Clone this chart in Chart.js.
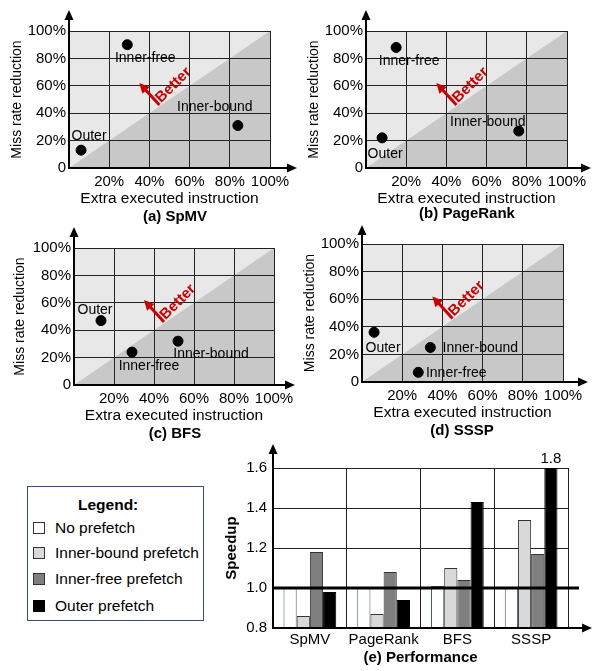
<!DOCTYPE html>
<html>
<head>
<meta charset="utf-8">
<script src="https://cdn.jsdelivr.net/npm/chart.js@4.4.1/dist/chart.umd.min.js"></script>
<style>
  html, body { margin: 0; padding: 0; background: #fff; }
  body { position: relative; width: 594px; height: 671px; overflow: hidden; font-family: 'Liberation Sans', Arial, sans-serif; }
  canvas { position: absolute; }
  #legendBox { position: absolute; left: 27px; top: 486px; width: 177px; height: 135px; box-sizing: border-box; border: 1px solid #3c4e6e; color: #000; }
  #legendBox .ttl { position: absolute; left: 50px; top: 9px; font-weight: bold; font-size: 15.5px; line-height: 18px; }
  #legendBox .row { position: absolute; left: 5px; height: 18px; line-height: 18px; font-size: 15.5px; white-space: nowrap; }
  #legendBox .sw { position: absolute; left: 0; top: 3px; width: 12px; height: 12px; box-sizing: border-box; border: 1px solid #333; }
  #legendBox .txt { position: absolute; left: 22px; top: 0; }
</style>
</head>
<body>
<canvas id="chartA" width="299" height="226" style="left:0;top:0"></canvas>
<canvas id="chartB" width="299" height="226" style="left:295px;top:0"></canvas>
<canvas id="chartC" width="299" height="222" style="left:0;top:222px"></canvas>
<canvas id="chartD" width="299" height="222" style="left:295px;top:222px"></canvas>
<canvas id="chartE" width="374" height="231" style="left:220px;top:440px"></canvas>
<div id="legendBox"></div>
<script>
// ---- data ----
const pointNames = ['Outer', 'Inner-free', 'Inner-bound'];
const spmvExtra = [6, 29, 84];
const spmvMiss = [13, 90, 31];
const pagerankExtra = [8, 15, 76];
const pagerankMiss = [22, 88, 27];
const bfsExtra = [13.5, 29, 52];
const bfsMiss = [47, 24, 32];
const ssspExtra = [6, 28, 34];
const ssspMiss = [36, 7, 25];
const percentTicks = [0, 20, 40, 60, 80, 100];

const benchmarks = ['SpMV', 'PageRank', 'BFS', 'SSSP'];
const seriesNames = ['No prefetch', 'Inner-bound prefetch', 'Inner-free prefetch', 'Outer prefetch'];
const noPrefetch = [1.0, 1.0, 1.01, 1.0];
const innerBound = [0.86, 0.87, 1.10, 1.34];
const innerFree = [1.18, 1.08, 1.04, 1.17];
const outerPrefetch = [0.98, 0.94, 1.43, 1.8];
const speedupTicks = [0.8, 1.0, 1.2, 1.4, 1.6];

// ---- styles ----
const FONT = "'Liberation Sans', Arial, sans-serif";
Chart.defaults.font.family = FONT;
Chart.defaults.color = '#000';
const seriesFill = ['#ffffff', '#d9d9d9', '#7f7f7f', '#000000'];
const seriesBorder = ['#4a5a7a', '#333333', '#333333', '#000000'];
const RED = '#cc0000';

function drawArrow(ctx, x1, y1, x2, y2, lw, headLen, headW, color) {
  const ang = Math.atan2(y2 - y1, x2 - x1);
  ctx.save();
  ctx.strokeStyle = color;
  ctx.fillStyle = color;
  ctx.lineWidth = lw;
  ctx.beginPath();
  ctx.moveTo(x1, y1);
  ctx.lineTo(x2 - Math.cos(ang) * headLen * 0.8, y2 - Math.sin(ang) * headLen * 0.8);
  ctx.stroke();
  ctx.translate(x2, y2);
  ctx.rotate(ang);
  ctx.beginPath();
  ctx.moveTo(0, 0);
  ctx.lineTo(-headLen, -headW / 2);
  ctx.lineTo(-headLen, headW / 2);
  ctx.closePath();
  ctx.fill();
  ctx.restore();
}

// "Better" annotation, in data units (same for every panel)
const betterFrom = [45, 46];
const betterTo = [35, 62];
const betterText = [52, 60.5];

function makeDecor(p) {
  return {
    id: 'panelDecor',
    beforeDraw(chart) {
      const { ctx, chartArea: a, scales: { x, y } } = chart;
      ctx.save();
      ctx.fillStyle = '#e8e8e8';
      ctx.fillRect(a.left, a.top, a.width, a.height);
      ctx.fillStyle = '#c8c8c8';
      ctx.beginPath();
      ctx.moveTo(x.getPixelForValue(0), y.getPixelForValue(0));
      ctx.lineTo(x.getPixelForValue(100), y.getPixelForValue(0));
      ctx.lineTo(x.getPixelForValue(100), y.getPixelForValue(100));
      ctx.closePath();
      ctx.fill();
      ctx.restore();
    },
    afterDatasetsDraw(chart) {
      const { ctx, chartArea: a, scales: { x, y } } = chart;
      // axes with arrow heads
      drawArrow(ctx, a.left, a.bottom + 1, a.left, p.tips[0], 2, 10, 9, '#000');
      drawArrow(ctx, a.left - 1, a.bottom, p.tips[1], a.bottom, 2, 10, 9, '#000');
      // Better arrow
      drawArrow(ctx, x.getPixelForValue(betterFrom[0]), y.getPixelForValue(betterFrom[1]),
        x.getPixelForValue(betterTo[0]), y.getPixelForValue(betterTo[1]), 3, 10, 10, RED);
      ctx.save();
      ctx.translate(x.getPixelForValue(betterText[0]), y.getPixelForValue(betterText[1]));
      ctx.rotate(-Math.PI / 4);
      ctx.fillStyle = RED;
      ctx.font = 'bold 15px ' + FONT;
      ctx.textAlign = 'center';
      ctx.textBaseline = 'middle';
      ctx.fillText('Better', 0, 0);
      ctx.restore();
      // point labels
      const meta = chart.getDatasetMeta(0);
      ctx.save();
      ctx.fillStyle = '#000';
      ctx.font = '14px ' + FONT;
      ctx.textAlign = 'center';
      ctx.textBaseline = 'middle';
      meta.data.forEach((pt, i) => {
        ctx.fillText(pointNames[i], pt.x + p.labelOffsets[i][0], pt.y + p.labelOffsets[i][1]);
      });
      // caption
      ctx.font = 'bold 15px ' + FONT;
      ctx.fillText(p.caption, p.captionAt[0], p.captionAt[1]);
      ctx.restore();
    }
  };
}

const panels = [
  { id: 'chartA', xs: spmvExtra, ys: spmvMiss, caption: '(a) SpMV',
    pad: { top: 31, right: 29, bottom: 18 }, yw: 69, xh: 40, yTitlePad: 9,
    tips: [10, 297], captionAt: [175, 217], labelOffsets: [[8, -14], [18, 13], [-23, -18]] },
  { id: 'chartB', xs: pagerankExtra, ys: pagerankMiss, caption: '(b) PageRank',
    pad: { top: 31, right: 27, bottom: 18 }, yw: 71, xh: 40, yTitlePad: 11,
    tips: [10, 296], captionAt: [172, 214], labelOffsets: [[3, 16], [13, 14], [-31, -9]] },
  { id: 'chartC', xs: bfsExtra, ys: bfsMiss, caption: '(c) BFS',
    pad: { top: 26, right: 25, bottom: 19 }, yw: 74, xh: 40, yTitlePad: 12,
    tips: [5, 295], captionAt: [175, 212], labelOffsets: [[-6, -10], [17, 14], [33, 13]] },
  { id: 'chartD', xs: ssspExtra, ys: ssspMiss, caption: '(d) SSSP',
    pad: { top: 22, right: 31, bottom: 22 }, yw: 67, xh: 40, yTitlePad: 7,
    tips: [3, 293], captionAt: [167, 209], labelOffsets: [[9, 16], [38, 1], [50, 1]] }
];

panels.forEach(function (p) {
  new Chart(document.getElementById(p.id), {
    type: 'scatter',
    data: {
      datasets: [{
        data: p.xs.map((v, i) => ({ x: v, y: p.ys[i] })),
        pointRadius: 5,
        pointHoverRadius: 5,
        backgroundColor: '#000',
        borderColor: '#000'
      }]
    },
    options: {
      responsive: false,
      animation: false,
      events: [],
      layout: { padding: { top: p.pad.top, right: p.pad.right, bottom: p.pad.bottom, left: 0 } },
      plugins: { legend: { display: false }, tooltip: { enabled: false } },
      scales: {
        x: {
          type: 'linear', min: 0, max: 100,
          afterBuildTicks: s => { s.ticks = percentTicks.map(v => ({ value: v })); },
          afterFit: s => { s.height = p.xh; },
          ticks: { font: { size: 15 }, color: '#000', padding: 5, maxRotation: 0, autoSkip: false,
            callback: v => (v === 0 ? '' : v + '%') },
          grid: { color: '#222', lineWidth: 1, drawTicks: false },
          border: { display: false },
          title: { display: true, text: 'Extra executed instruction', font: { size: 15.5 }, color: '#000',
            padding: { top: 0, bottom: 0 } }
        },
        y: {
          type: 'linear', min: 0, max: 100,
          afterBuildTicks: s => { s.ticks = percentTicks.map(v => ({ value: v })); },
          afterFit: s => { s.width = p.yw; },
          ticks: { font: { size: 15 }, color: '#000', padding: 3, autoSkip: false,
            callback: v => (v === 0 ? '0' : v + '%') },
          grid: { color: '#222', lineWidth: 1, drawTicks: false },
          border: { display: false },
          title: { display: true, text: 'Miss rate reduction', font: { size: 14 }, color: '#000',
            padding: { top: p.yTitlePad, bottom: 0 } }
        }
      }
    },
    plugins: [makeDecor(p)]
  });
});

// ---- speedup bar chart ----
const seriesValues = [noPrefetch, innerBound, innerFree, outerPrefetch];

const barDecor = {
  id: 'barDecor',
  afterDatasetsDraw(chart) {
    const { ctx, chartArea: a, scales: { y } } = chart;
    // thick baseline at 1.0
    ctx.save();
    ctx.strokeStyle = '#000';
    ctx.lineWidth = 3;
    ctx.beginPath();
    ctx.moveTo(a.left, y.getPixelForValue(1.0));
    ctx.lineTo(a.right + 11, y.getPixelForValue(1.0));
    ctx.stroke();
    ctx.restore();
    drawArrow(ctx, a.left, a.bottom + 1, a.left, 4, 2, 10, 9, '#000');
    drawArrow(ctx, a.left - 1, a.bottom, 372, a.bottom, 2, 10, 9, '#000');
    // values cut off at the top
    ctx.save();
    ctx.fillStyle = '#000';
    ctx.font = '15px ' + FONT;
    ctx.textAlign = 'center';
    ctx.textBaseline = 'middle';
    chart.data.datasets.forEach((ds, di) => {
      chart.getDatasetMeta(di).data.forEach((bar, i) => {
        if (ds.data[i] > y.max) ctx.fillText(ds.data[i].toFixed(1), bar.x, a.top - 9);
      });
    });
    ctx.restore();
  }
};

new Chart(document.getElementById('chartE'), {
  type: 'bar',
  data: {
    labels: benchmarks,
    datasets: seriesValues.map((vals, i) => ({
      label: seriesNames[i],
      data: vals,
      backgroundColor: seriesFill[i],
      borderColor: seriesBorder[i],
      borderWidth: 1,
      clip: 0,
      categoryPercentage: 0.715,
      barPercentage: 1
    }))
  },
  options: {
    responsive: false,
    animation: false,
    events: [],
    layout: { padding: { top: 28, right: 26, bottom: 4, left: 0 } },
    plugins: { legend: { display: false }, tooltip: { enabled: false } },
    scales: {
      x: {
        afterFit: s => { s.height = 39; },
        ticks: { font: { size: 15 }, color: '#000', padding: 3, maxRotation: 0, autoSkip: false },
        grid: { color: '#222', lineWidth: 1, drawTicks: false, offset: true },
        border: { display: false },
        title: { display: true, text: '(e) Performance', font: { size: 15, weight: 'bold' }, color: '#000',
          padding: { top: 0, bottom: 0 } }
      },
      y: {
        min: 0.8, max: 1.6,
        afterBuildTicks: s => { s.ticks = speedupTicks.map(v => ({ value: v })); },
        afterFit: s => { s.width = 53; },
        ticks: { font: { size: 15 }, color: '#000', padding: 6, autoSkip: false, callback: v => v.toFixed(1) },
        grid: { color: ctx => (ctx.tick && (ctx.tick.value === 0.8 || ctx.tick.value === 1.0) ? 'rgba(0,0,0,0)' : '#222'),
          lineWidth: 1, drawTicks: false },
        border: { display: false },
        title: { display: true, text: 'Speedup', font: { size: 15, weight: 'bold' }, color: '#000',
          padding: { top: 3, bottom: 0 } }
      }
    }
  },
  plugins: [barDecor]
});

// ---- legend box ----
const legendBox = document.getElementById('legendBox');
const legendRowTops = [32, 57, 83, 110];
let html = '<div class="ttl">Legend:</div>';
seriesNames.forEach(function (name, i) {
  html += '<div class="row" style="top:' + legendRowTops[i] + 'px"><span class="sw" style="background:' +
    seriesFill[i] + ';border-color:' + (i === 3 ? '#000' : '#333') + '"></span><span class="txt">' + name + '</span></div>';
});
legendBox.innerHTML = html;
</script>
</body>
</html>
